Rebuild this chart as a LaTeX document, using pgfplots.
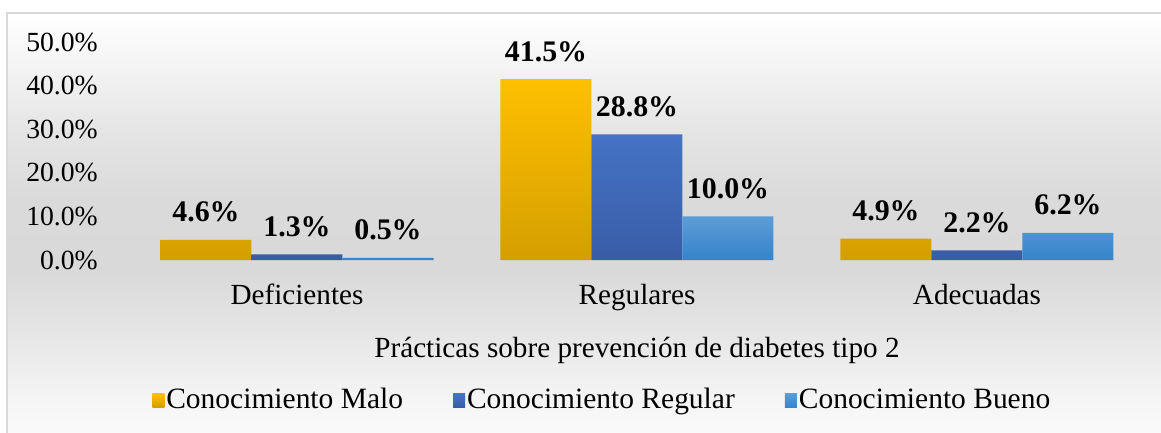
\documentclass[border=0pt]{standalone}
\usepackage{pgfplots}
\pgfplotsset{compat=1.18}
\usepackage{fontspec}
\setmainfont{Liberation Serif}

% bar colours (top / bottom of each gradient)
\definecolor{maloTop}{HTML}{FFC000}
\definecolor{maloBot}{HTML}{D49E00}
\definecolor{regTop}{HTML}{4673C6}
\definecolor{regBot}{HTML}{385DA6}
\definecolor{bueTop}{HTML}{5D9DD6}
\definecolor{bueBot}{HTML}{3583CC}
\definecolor{frameGray}{HTML}{D9D9D9}

% chart area background: light at the top and bottom, grey in the middle
\definecolor{bgA}{RGB}{251,251,251}
\definecolor{bgB}{RGB}{245,245,245}
\definecolor{bgC}{RGB}{229,229,229}
\definecolor{bgD}{RGB}{218,218,218}
\definecolor{bgE}{RGB}{217,217,217}
\pgfdeclareverticalshading{chartbg}{100bp}{%
  color(0bp)=(bgA); color(25bp)=(bgA); color(29.9bp)=(bgB);
  color(38.1bp)=(bgC); color(45bp)=(bgE); color(53.2bp)=(bgD);
  color(61.4bp)=(bgC); color(69.5bp)=(bgB); color(75bp)=(white);
  color(100bp)=(white)}

\pgfdeclarelayer{chartback}
\pgfsetlayers{chartback,main}

\newcommand\basefont{\fontsize{29.3}{35}\selectfont}
\newcommand\tickfont{\fontsize{27.8}{33}\selectfont}
\newcommand\valuefont{\fontsize{30}{36}\selectfont\bfseries}
\newcommand\keyfont{\fontsize{29.6}{35}\selectfont}

\begin{document}
\basefont
\begin{tikzpicture}[x=1bp,y=1bp]
\begin{axis}[
  scale only axis, width=1020bp, height=218bp,
  xmin=-0.5, xmax=2.5, ymin=0, ymax=50,
  axis line style={draw=none}, major tick length=0pt,
  /pgf/number format/assume math mode=true,
  ybar=0pt, bar width=91bp,
  xtick={0,1,2},
  xticklabels={Deficientes,Regulares,Adecuadas},
  xticklabel style={anchor=base, yshift=-44bp, inner sep=0pt},
  ytick={0,10,20,30,40,50},
  yticklabels={0.0\%,10.0\%,20.0\%,30.0\%,40.0\%,50.0\%},
  yticklabel style={font=\tickfont, anchor=east, inner sep=0pt, xshift=-29bp},
  xlabel={Prácticas sobre prevención de diabetes tipo 2},
  xlabel style={at={(axis description cs:0.5,0)}, anchor=base, yshift=-97bp, inner sep=0pt},
  nodes near coords={\pgfmathprintnumber[fixed,fixed zerofill,precision=1]{\pgfplotspointmeta}\%},
  every node near coord/.append style={font=\valuefont, anchor=base, yshift=18bp, inner sep=0pt},
  legend columns=3,
  legend style={draw=none, fill=none, font=\keyfont,
    at={(axis description cs:0.466,-0.645)}, anchor=center,
    nodes={inner xsep=2bp, inner ysep=0pt},
    /tikz/every even column/.append style={column sep=48bp}},
  legend image code/.code={\path[#1, draw=none] (0bp,-7bp) rectangle (12bp,7bp);},
]
\addplot[draw=none, top color=maloTop, bottom color=maloBot]
  coordinates {(0,4.6) (1,41.5) (2,4.9)};
\addlegendentry{Conocimiento Malo}
\addplot[draw=none, top color=regTop, bottom color=regBot]
  coordinates {(0,1.3) (1,28.8) (2,2.2)};
\addlegendentry{Conocimiento Regular}
\addplot[draw=none, top color=bueTop, bottom color=bueBot]
  coordinates {(0,0.5) (1,10.0) (2,6.2)};
\addlegendentry{Conocimiento Bueno}
\coordinate (LL) at (rel axis cs:0,0);
\end{axis}

% page frame, placed relative to the lower-left corner of the plot box
\begin{scope}[shift={(LL)}, xshift=-127bp, yshift=-172bp]
  \pgfresetboundingbox
  \path[use as bounding box] (0,0) rectangle (1161,432);
  \begin{pgfonlayer}{chartback}
    \shade[shading=chartbg] (7,419) rectangle (1172,-10);
    \draw[frameGray, line width=1.6bp] (1172,419) -- (7,419) -- (7,-10);
  \end{pgfonlayer}
\end{scope}
\end{tikzpicture}
\end{document}
